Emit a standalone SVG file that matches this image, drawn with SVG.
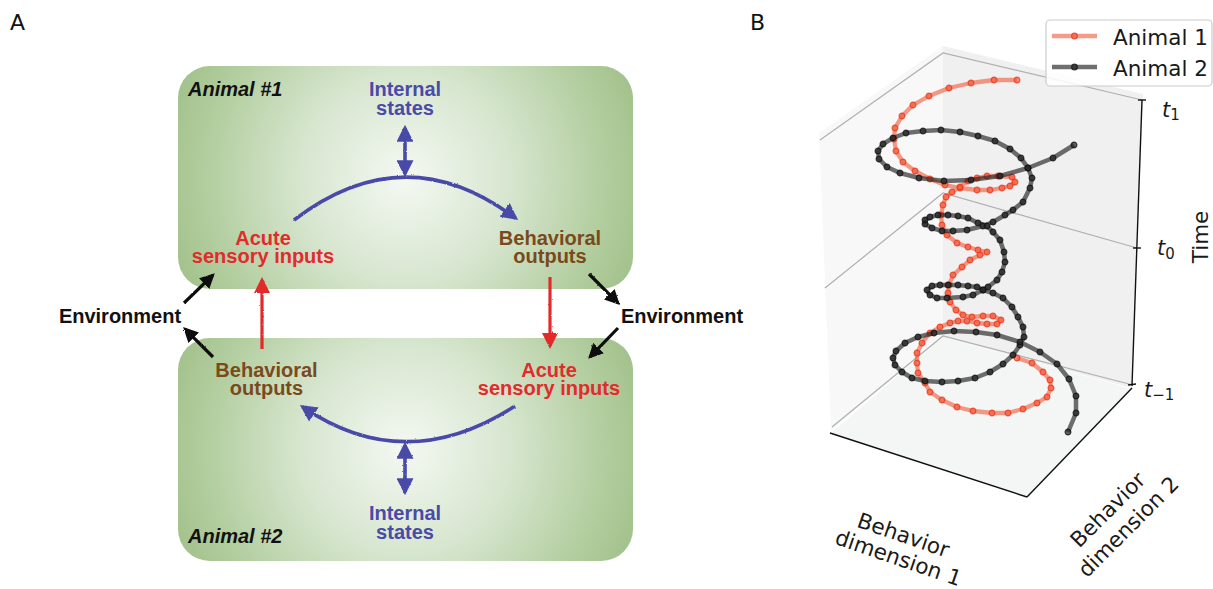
<svg xmlns="http://www.w3.org/2000/svg" width="1213" height="589" viewBox="0 0 1213 589">
<style>
.lbl{font-family:"Liberation Sans",Arial,sans-serif;font-weight:bold;font-size:20px;text-anchor:middle}
.blue{fill:#4a4aa8}.red{fill:#e22b2b}.brown{fill:#7a4a1c}.blk{fill:#111}
.ital{font-family:"Liberation Sans",Arial,sans-serif;font-weight:bold;font-style:italic;font-size:20px;fill:#111}
.panel{font-family:"DejaVu Sans",sans-serif;font-size:22px;fill:#111}
.mpl{font-family:"DejaVu Sans",sans-serif;font-size:21.5px;fill:#1a1a1a}
.tick{font-family:"DejaVu Sans",sans-serif;font-style:italic;font-size:21px;fill:#1a1a1a}
.grid{stroke:#b0b0b0;stroke-width:1.2;fill:none}
.axis{stroke:#111;stroke-width:1.4;fill:none}
.cb{stroke:#4a4aa8;stroke-width:3.6;fill:none}
.cr{stroke:#e22b2b;stroke-width:3.2;fill:none}
.ck{stroke:#111;stroke-width:3.2;fill:none}
</style>
<defs>
<radialGradient id="g1" gradientUnits="userSpaceOnUse" cx="405" cy="178" r="262">
<stop offset="0" stop-color="#f4f8f2"/><stop offset="0.4" stop-color="#d7e6cf"/><stop offset="0.75" stop-color="#b3cea0"/><stop offset="1" stop-color="#9dbd84"/>
</radialGradient>
<radialGradient id="g2" gradientUnits="userSpaceOnUse" cx="405" cy="449" r="262">
<stop offset="0" stop-color="#f4f8f2"/><stop offset="0.4" stop-color="#d7e6cf"/><stop offset="0.75" stop-color="#b3cea0"/><stop offset="1" stop-color="#9dbd84"/>
</radialGradient>
<filter id="rough" filterUnits="userSpaceOnUse" x="0" y="0" width="1213" height="589">
<feTurbulence type="fractalNoise" baseFrequency="0.9" numOctaves="2" seed="3" result="n"/>
<feDisplacementMap in="SourceGraphic" in2="n" scale="2" xChannelSelector="R" yChannelSelector="G"/>
</filter>
<marker id="hb" viewBox="0 0 16 16" refX="13" refY="8" markerWidth="17" markerHeight="17" markerUnits="userSpaceOnUse" orient="auto-start-reverse"><path d="M0,0 L16,8 L0,16 Z" fill="#4a4aa8"/></marker>
<marker id="hr" viewBox="0 0 16 16" refX="13" refY="8" markerWidth="16" markerHeight="16" markerUnits="userSpaceOnUse" orient="auto-start-reverse"><path d="M0,0 L16,8 L0,16 Z" fill="#e22b2b"/></marker>
<marker id="hk" viewBox="0 0 16 16" refX="13" refY="8" markerWidth="15" markerHeight="15" markerUnits="userSpaceOnUse" orient="auto-start-reverse"><path d="M0,0 L16,8 L0,16 Z" fill="#111"/></marker>
<marker id="dr" viewBox="-4 -4 8 8" refX="0" refY="0" markerWidth="8" markerHeight="8" markerUnits="userSpaceOnUse"><circle r="2.9" fill="#f2583a" fill-opacity="0.65" stroke="#ea3a1c" stroke-opacity="0.8" stroke-width="1.2"/></marker>
<marker id="dk" viewBox="-4 -4 8 8" refX="0" refY="0" markerWidth="8" markerHeight="8" markerUnits="userSpaceOnUse"><circle r="2.9" fill="#222" fill-opacity="0.7" stroke="#111" stroke-opacity="0.75" stroke-width="1.2"/></marker>
</defs>
<rect width="1213" height="589" fill="#fff"/>

<!-- Panel A -->
<text class="panel" x="10" y="30">A</text>
<g id="animal1">
<rect x="178" y="66" width="455" height="223" rx="32" fill="url(#g1)"/>
<text class="ital" x="188" y="96">Animal #1</text>
</g>
<g id="animal2">
<rect x="178" y="338" width="455" height="223" rx="32" fill="url(#g2)"/>
<text class="ital" x="188" y="543">Animal #2</text>
</g>
<g id="internal1"><text class="lbl blue" x="405" y="96">Internal<tspan x="405" dy="18.5">states</tspan></text></g>
<g id="acute1"><text class="lbl red" x="263" y="245">Acute<tspan x="263" dy="18">sensory inputs</tspan></text></g>
<g id="behav1"><text class="lbl brown" x="550" y="245">Behavioral<tspan x="550" dy="18">outputs</tspan></text></g>
<g id="behav2"><text class="lbl brown" x="266.5" y="377">Behavioral<tspan x="266.5" dy="18">outputs</tspan></text></g>
<g id="acute2"><text class="lbl red" x="549" y="377">Acute<tspan x="549" dy="18">sensory inputs</tspan></text></g>
<g id="internal2"><text class="lbl blue" x="405" y="520">Internal<tspan x="405" dy="18.5">states</tspan></text></g>
<g id="envL"><text class="lbl blk" x="120" y="322.5">Environment</text></g>
<g id="envR"><text class="lbl blk" x="682" y="322.5">Environment</text></g>

<g id="connectors" filter="url(#rough)">
<path class="cb" d="M294,220 Q405,135 515.6,218.2" marker-end="url(#hb)"/>
<path class="cb" d="M405,128 L405,174" marker-start="url(#hb)" marker-end="url(#hb)"/>
<path class="cb" d="M515,406 Q405,477 302.5,406.7" marker-end="url(#hb)"/>
<path class="cb" d="M405,445 L405,492" marker-start="url(#hb)" marker-end="url(#hb)"/>
<path class="cr" d="M262,349 L262,280" marker-end="url(#hr)"/>
<path class="cr" d="M550,277 L550,346" marker-end="url(#hr)"/>
<path class="ck" d="M184,303 L212.8,275.1" marker-end="url(#hk)"/>
<path class="ck" d="M213,357 L185.1,329.1" marker-end="url(#hk)"/>
<path class="ck" d="M589,274 L617.9,302.9" marker-end="url(#hk)"/>
<path class="ck" d="M618,328 L590.1,356.8" marker-end="url(#hk)"/>
</g>

<!-- Panel B -->
<text class="panel" x="750" y="30">B</text>
<g id="axes3d">
<polygon points="819,133 943,46 943,337 831,431" fill="#f8f8f8"/>
<polygon points="943,46 1143,94 1132,388 943,337" fill="#f0f0f0"/>
<polygon points="831,433 1027,497 1132,389 943,337" fill="#f4f5f5"/>
<polyline class="grid" points="820,140 943,53 1142,100"/>
<polyline class="grid" points="825,288 943,193 1137,248"/>
<polyline class="grid" points="832,427 943,336 1133,385"/>
<line class="axis" x1="830" y1="433" x2="1027" y2="497"/>
<line class="axis" x1="1027" y1="497" x2="1132" y2="388"/>
<line class="axis" x1="1142" y1="100" x2="1132" y2="386"/>
<line class="axis" x1="1138" y1="100" x2="1146" y2="100"/>
<line class="axis" x1="1133" y1="248" x2="1141" y2="248"/>
<line class="axis" x1="1128" y1="385" x2="1136" y2="384"/>
<text class="tick" x="1162" y="117">t<tspan font-size="15" font-style="normal" dy="3">1</tspan></text>
<text class="tick" x="1157" y="255">t<tspan font-size="15" font-style="normal" dy="4">0</tspan></text>
<text class="tick" x="1144" y="397">t<tspan font-size="15" font-style="normal" dy="3">−1</tspan></text>
<text class="mpl" x="1208" y="237" text-anchor="middle" transform="rotate(-90 1208 237)">Time</text>
<text class="mpl" font-size="21" text-anchor="middle" transform="translate(901 542) rotate(19)">Behavior</text>
<text class="mpl" font-size="21" text-anchor="middle" transform="translate(896 565) rotate(19)">dimension 1</text>
<text class="mpl" text-anchor="middle" transform="translate(1113 515) rotate(-45)">Behavior</text>
<text class="mpl" text-anchor="middle" transform="translate(1133.5 532) rotate(-45)">dimension 2</text>
</g>
<g id="animal1-traj">
<polyline fill="none" stroke="#f2583a" stroke-opacity="0.6" stroke-width="4.3" stroke-linejoin="round" marker-start="url(#dr)" marker-mid="url(#dr)" marker-end="url(#dr)" points="1017,80 994,80 971,83 949,88 929,96 913,105 902,116 895,128 894,139 896,151 903,162 915,171 930,179 945,185 960,188 977,190 990,190 1002,188 1010,186 1015,182 1012,177 998,176 987,176 977,178 968,181 960,187 952,192 946,197 943,205 941,215 942,225 947,235 957,243 968,247 978,250 987,252 980,255 970,260 962,267 953,275 949,285 948,293 950,302 956,310 963,315 972,317 983,316 993,316 1001,320 997,324 987,324 977,323 967,321 958,321 950,323 940,327 930,333 922,343 917,353 917,363 918,373 925,383 930,392 942,400 957,407 973,411 992,413 1008,413 1023,409 1037,403 1047,397 1051,388 1050,380 1043,372 1032,363 1017,358"/>
</g>
<g id="animal2-traj">
<polyline fill="none" stroke="#222" stroke-opacity="0.65" stroke-width="4.5" stroke-linejoin="round" marker-start="url(#dk)" marker-mid="url(#dk)" marker-end="url(#dk)" points="1074,145 1053,158 1028,168 1000,176 971,180 944,181 919,178 900,173 887,167 879,159 878,151 883,144 893,138 906,133 923,131 941,130 960,132 978,136 995,141 1010,149 1021,158 1028,168 1032,178 1030,188 1023,202 1013,210 1005,215 993,222 983,226 967,230 953,231 942,231 932,228 925,224 925,220 930,217 938,215 948,215 958,216 968,218 978,223 987,226 993,232 1000,240 1004,252 1005,262 1002,272 997,280 988,287 983,290 973,295 963,297 947,298 937,298 930,295 927,290 932,286 940,285 948,285 958,285 968,286 977,287 983,290 993,293 1003,298 1012,307 1018,317 1023,327 1024,337 1020,345 1013,355 1003,364 990,372 975,378 958,381 942,382 925,381 912,378 902,372 895,365 893,358 896,351 905,343 918,337 934,333 954,331 976,332 997,335 1020,342 1040,352 1057,364 1069,379 1076,396 1076,413 1068,432"/>
</g>
<g id="legend">
<rect x="1046" y="20" width="166" height="66" rx="4" fill="#fff" fill-opacity="0.85" stroke="#cccccc" stroke-width="1.2"/>
<line x1="1052" y1="36" x2="1097" y2="36" stroke="#f2583a" stroke-opacity="0.6" stroke-width="4.3"/>
<circle cx="1074.5" cy="36" r="2.9" fill="#f2583a" fill-opacity="0.65" stroke="#ea3a1c" stroke-opacity="0.8" stroke-width="1.2"/>
<line x1="1052" y1="67" x2="1097" y2="67" stroke="#222" stroke-opacity="0.65" stroke-width="4.5"/>
<circle cx="1074.5" cy="67" r="2.9" fill="#222" fill-opacity="0.7" stroke="#111" stroke-opacity="0.75" stroke-width="1.2"/>
<text class="mpl" x="1113" y="45" font-size="22">Animal 1</text>
<text class="mpl" x="1113" y="76" font-size="22">Animal 2</text>
</g>
</svg>
